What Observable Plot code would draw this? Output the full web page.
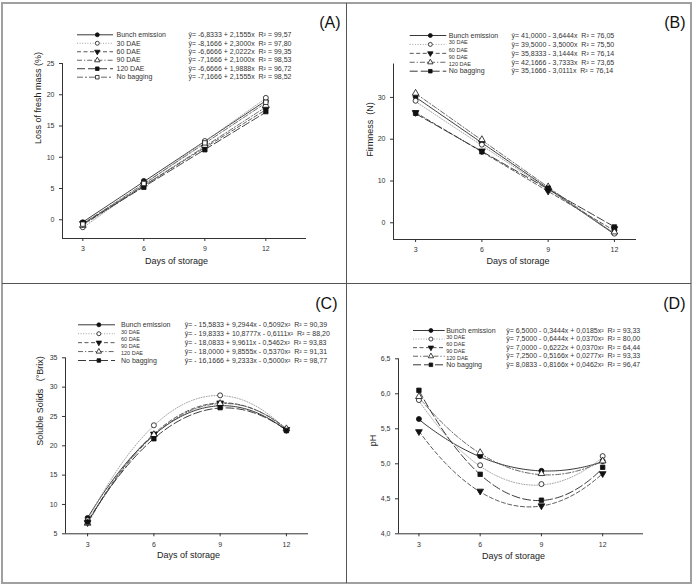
<!DOCTYPE html>
<html>
<head>
<meta charset="utf-8">
<script src="https://cdn.jsdelivr.net/npm/d3@7"></script>
<script src="https://cdn.jsdelivr.net/npm/@observablehq/plot@0.6"></script>
<style>
  body { margin: 0; background: #fff; }
  #fig { position: relative; width: 696px; height: 584px; background: #fff; overflow: hidden;
         font-family: "Liberation Sans", Arial, sans-serif; }
  .layer { position: absolute; }
  .layer svg { display: block; }
  .outer { position: absolute; left: 1px; top: 2px; width: 691px; height: 582px; box-sizing: border-box; border: 2px solid #a0a0a0; }
  .vdiv { position: absolute; left: 346px; top: 3px; width: 1px; height: 580px; background: #555; }
  .hdiv { position: absolute; left: 2px; top: 283px; width: 689px; height: 1px; background: #555; }
</style>
</head>
<body>
<div id="fig">
  <div class="outer"></div>
  <div class="vdiv"></div>
  <div class="hdiv"></div>
</div>
<script>
const days = [3, 6, 9, 12];
const xLabel = "Days of storage";

// (A) Loss of fresh mass — six treatments, linear fits
const aLegend = ["Bunch emission", "30 DAE", "60 DAE", "90 DAE", "120 DAE", "No bagging"];
const aIntercept = [-6.8333, -8.1666, -6.6666, -7.1666, -6.6666, -7.1666];
const aSlope = [2.1555, 2.3000, 2.0222, 2.1000, 1.9888, 2.1555];
const aR2 = [99.57, 97.80, 99.35, 98.53, 96.72, 98.52];
const aObserved = [
  [-0.4, 6.2, 12.3, 19.0],
  [-1.2, 5.9, 12.6, 19.5],
  [-0.6, 5.6, 11.6, 17.7],
  [-0.9, 5.7, 11.9, 18.3],
  [-0.5, 5.2, 11.2, 17.3],
  [-0.7, 5.8, 12.3, 18.8]
];
const aYTicks = [0, 5, 10, 15, 20, 25];

// (B) Firmness — linear fits
const bLegend = ["Bunch emission", "30 DAE", "60 DAE", "90 DAE", "120 DAE", "No bagging"];
const bIntercept = [41.0000, 39.5000, 35.8333, 42.1666, 35.1666];
const bSlope = [-3.6444, -3.5000, -3.1444, -3.7333, -3.0111];
const bR2 = [76.05, 75.50, 76.14, 73.65, 76.14];
const bObserved = [
  [30.2, 19.3, 8.1, -1.8],
  [29.2, 18.7, 7.9, -2.6],
  [26.4, 17.2, 7.6, -1.4],
  [31.0, 19.9, 8.6, -2.2],
  [26.2, 17.0, 8.3, -1.0]
];
const bYTicks = [0, 10, 20, 30];

// (C) Soluble solids — quadratic fits
const cLegend = ["Bunch emission", "30 DAE", "60 DAE", "90 DAE", "120 DAE", "No bagging"];
const cIntercept = [-15.5833, -19.8333, -18.0833, -18.0000, -16.1666];
const cLinear = [9.2944, 10.8777, 9.9611, 9.8555, 9.2333];
const cQuad = [-0.5092, -0.6111, -0.5462, -0.5370, -0.5000];
const cR2 = [90.39, 88.20, 93.83, 91.31, 98.77];
const cObserved = [
  [7.7, 21.9, 27.1, 22.6],
  [7.3, 23.5, 28.6, 22.7],
  [6.9, 22.0, 27.3, 22.8],
  [6.8, 21.9, 27.2, 22.9],
  [7.0, 21.2, 26.5, 22.6]
];
const cYTicks = [5, 10, 15, 20, 25, 30, 35];

// (D) pH — quadratic fits
const dLegend = ["Bunch emission", "30 DAE", "60 DAE", "90 DAE", "120 DAE", "No bagging"];
const dIntercept = [6.5000, 7.5000, 7.0000, 7.2500, 8.0833];
const dLinear = [-0.3444, -0.6444, -0.6222, -0.5166, -0.8166];
const dQuad = [0.0185, 0.0370, 0.0370, 0.0277, 0.0462];
const dR2 = [93.33, 80.00, 64.44, 93.33, 96.47];
const dObserved = [
  [5.64, 5.11, 4.90, 5.04],
  [5.91, 4.98, 4.71, 5.11],
  [5.46, 4.61, 4.40, 4.86],
  [5.96, 5.16, 4.86, 5.04],
  [6.05, 4.85, 4.48, 4.95]
];
const dYTicks = [4.0, 4.5, 5.0, 5.5, 6.0, 6.5];

// Downward-pointing triangle symbol
const triangleDown = {
  draw(ctx, size) {
    const s3 = Math.sqrt(3);
    const y = -Math.sqrt(size / (s3 * 3));
    ctx.moveTo(0, -y * 2);
    ctx.lineTo(-s3 * y, y);
    ctx.lineTo(s3 * y, y);
    ctx.closePath();
  }
};

const lineStyles = [
  {stroke: "#222", strokeWidth: 0.9},
  {stroke: "#999", strokeWidth: 0.9, strokeDasharray: "1,1.6"},
  {stroke: "#444", strokeWidth: 0.9, strokeDasharray: "4,2.5"},
  {stroke: "#555", strokeWidth: 0.9, strokeDasharray: "5,2,1.2,2"},
  {stroke: "#222", strokeWidth: 0.9, strokeDasharray: "8,3"},
  {stroke: "#555", strokeWidth: 0.9, strokeDasharray: "6,2,2,2"}
];
const symbolStyles = [
  {symbol: "circle", fill: "#111"},
  {symbol: "circle", fill: "#fff"},
  {symbol: triangleDown, fill: "#111"},
  {symbol: "triangle", fill: "#fff"},
  {symbol: "square", fill: "#111"},
  {symbol: "square", fill: "#fff"}
];

const dec = (v, k) => v.toFixed(k).replace(".", ",");
const sp = "\u00a0\u00a0";
function equation(p, s) {
  const [a, b, c] = p.coefs.map(arr => arr && arr[s]);
  const lead = a < 0 ? p.negLead + dec(-a, 4) : dec(a, 4);
  let eq = `ŷ= ${lead} ${b < 0 ? "-" : "+"} ${dec(Math.abs(b), 4)}x`;
  if (c !== undefined && c !== null) eq += ` ${c < 0 ? "-" : "+"} ${dec(Math.abs(c), 4)}x²`;
  return eq + `${sp}R² = ${dec(p.r2[s], 2)}`;
}

const panels = [
  {id: "A", left: 2, top: 3, width: 345, height: 280,
   margin: {top: 60, right: 41, bottom: 45, left: 60},
   xDomain: [2, 14], yDomain: [-3, 25], yTicks: aYTicks, yFormat: d => String(d),
   yLabel: "Loss of fresh mass (%)", yShift: [-24, -7], xShift: [-8, 25],
   labels: aLegend, coefs: [aIntercept, aSlope, null], r2: aR2, observed: aObserved, negLead: "-",
   box: {x0: 75, x1: 111, y0: 31.3, y1: 73.7, labelDx: 3, eqDx: 75}, tag: [-7, 13]},
  {id: "B", left: 347, top: 3, width: 344, height: 280,
   margin: {top: 60.5, right: 55, bottom: 44, left: 46},
   xDomain: [2, 13], yDomain: [-4, 38], yTicks: bYTicks, yFormat: d => String(d),
   yLabel: "Firmness\u00a0\u00a0(N)", yShift: [-23, 5], xShift: [3, 24.5],
   labels: bLegend, coefs: [bIntercept, bSlope, null], r2: bR2, observed: bObserved, negLead: "-",
   box: {x0: 62.7, x1: 99.3, y0: 32, y1: 67.7, labelDx: 2, eqDx: 64.7}, tag: [-6, 13]},
  {id: "C", left: 2, top: 283, width: 345, height: 300,
   margin: {top: 74.3, right: 39, bottom: 49.7, left: 63},
   xDomain: [2, 13], yDomain: [5, 35], yTicks: cYTicks, yFormat: d => String(d),
   yLabel: "Soluble Solids\u00a0\u00a0\u00a0(°Brix)", yShift: [-25, 0], xShift: [1.5, 24.5],
   labels: cLegend, coefs: [cIntercept, cLinear, cQuad], r2: cR2, observed: cObserved, negLead: "- ",
   box: {x0: 76, x1: 113, y0: 41.3, y1: 77, labelDx: 5.5, eqDx: 69.3}, tag: [-10, 14.5]},
  {id: "D", left: 347, top: 283, width: 344, height: 300,
   margin: {top: 75.3, right: 48, bottom: 49.7, left: 51},
   xDomain: [2, 14], yDomain: [4.0, 6.5], yTicks: dYTicks, yFormat: d => dec(d, 1),
   yLabel: "pH", yShift: [-25, 0], xShift: [-7.5, 25],
   labels: dLegend, coefs: [dIntercept, dLinear, dQuad], r2: dR2, observed: dObserved, negLead: "-",
   box: {x0: 66, x1: 97.7, y0: 47, y1: 81.3, labelDx: 1, eqDx: 61}, tag: [-6, 14.5]}
];

const baseStyle = {
  fontFamily: '"Liberation Sans", Arial, sans-serif',
  fontSize: "7px",
  color: "#333",
  background: "none",
  overflow: "visible"
};

function drawPanel(p) {
  const [k0, k1, k2] = p.coefs;
  const obs = p.observed.flatMap((vals, s) => vals.map((v, i) => ({day: days[i], value: v, s})));
  const fit = p.observed.flatMap((_, s) =>
    d3.range(3, 12.0001, 0.1).map(x => ({x, y: k0[s] + k1[s] * x + (k2 ? k2[s] * x * x : 0), s})));
  const marks = [
    Plot.ruleY([p.yDomain[0]], {x1: p.xDomain[0], x2: p.xDomain[1], stroke: "#333", strokeWidth: 1}),
    Plot.ruleX([p.xDomain[0]], {y1: p.yDomain[0], y2: p.yDomain[1], stroke: "#333", strokeWidth: 1}),
    Plot.axisX({ticks: days, tickSize: 3, tickPadding: 5, fontSize: 7, label: null, stroke: "#333"}),
    Plot.axisY({ticks: p.yTicks, tickFormat: p.yFormat, tickSize: 3, tickPadding: 5, fontSize: 7, label: null, stroke: "#333"})
  ];
  p.observed.forEach((_, s) => {
    marks.push(Plot.line(fit.filter(d => d.s === s), {x: "x", y: "y", ...lineStyles[s]}));
  });
  p.observed.forEach((_, s) => {
    marks.push(Plot.dot(obs.filter(d => d.s === s), {x: "day", y: "value", r: 2.5, stroke: "#111", strokeWidth: 0.8, ...symbolStyles[s]}));
  });
  marks.push(Plot.text([p.yLabel], {text: d => d, frameAnchor: "left", rotate: -90, dx: p.yShift[0], dy: p.yShift[1], fontSize: 9, fill: "#222"}));
  marks.push(Plot.text([xLabel], {text: d => d, frameAnchor: "bottom", dx: p.xShift[0], dy: p.xShift[1], fontSize: 9, fill: "#222"}));
  return Plot.plot({
    width: p.width, height: p.height,
    marginTop: p.margin.top, marginRight: p.margin.right, marginBottom: p.margin.bottom, marginLeft: p.margin.left,
    x: {domain: p.xDomain},
    y: {domain: p.yDomain},
    style: baseStyle,
    marks
  });
}

function drawLegend(p) {
  const nS = p.observed.length;
  const nL = p.labels.length;
  const rows = d3.range(nS);
  const L = p.box;
  const labelRows = p.labels.map((label, i) => ({
    label, row: i * (nS - 1) / (nL - 1), small: nS < nL && i > 0 && i < nL - 1
  }));
  const marks = [];
  rows.forEach(s => {
    marks.push(Plot.ruleY([s], {x1: 0, x2: 1, ...lineStyles[s]}));
    marks.push(Plot.dot([s], {x: () => 0.55, y: d => d, r: 2.0, stroke: "#111", strokeWidth: 0.8, ...symbolStyles[s]}));
  });
  marks.push(Plot.text(labelRows.filter(d => !d.small), {x: () => 1, y: "row", text: "label", dx: L.labelDx, textAnchor: "start", fontSize: 7, fill: "#333"}));
  marks.push(Plot.text(labelRows.filter(d => d.small), {x: () => 1, y: "row", text: "label", dx: L.labelDx, textAnchor: "start", fontSize: 5.5, fill: "#333"}));
  marks.push(Plot.text(rows.map(s => ({s, eq: equation(p, s)})), {x: () => 1, y: "s", text: "eq", dx: L.eqDx, textAnchor: "start", fontSize: 7, fill: "#333"}));
  marks.push(Plot.text([`(${p.id})`], {text: d => d, frameAnchor: "top-right", lineAnchor: "top", dx: p.tag[0], dy: p.tag[1], fontSize: 16, fill: "#111"}));
  return Plot.plot({
    width: p.width, height: p.height, margin: 0,
    x: {domain: [0, 1], range: [L.x0, L.x1], axis: null},
    y: {domain: [0, nS - 1], range: [L.y0, L.y1], axis: null},
    style: baseStyle,
    marks
  });
}

const fig = document.getElementById("fig");
for (const p of panels) {
  for (const chart of [drawPanel(p), drawLegend(p)]) {
    const layer = document.createElement("div");
    layer.className = "layer";
    layer.style.left = p.left + "px";
    layer.style.top = p.top + "px";
    layer.style.width = p.width + "px";
    layer.style.height = p.height + "px";
    layer.appendChild(chart);
    fig.appendChild(layer);
  }
}
</script>
</body>
</html>
